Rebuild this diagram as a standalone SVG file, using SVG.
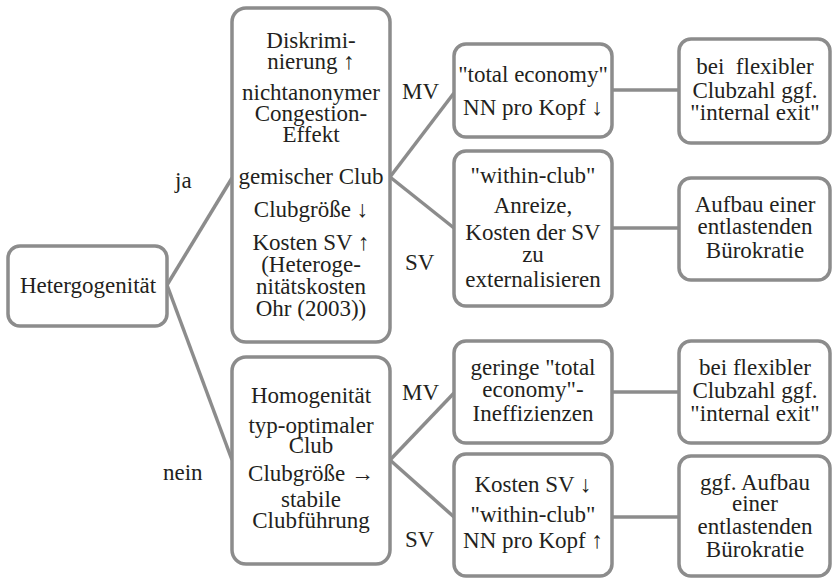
<svg xmlns="http://www.w3.org/2000/svg" width="833" height="579" viewBox="0 0 833 579" font-family="'Liberation Serif', Tinos, 'Times New Roman', 'DejaVu Serif', serif">
<style>
.box{fill:#fff;stroke:#8c8c8c;stroke-width:3.5}
.c{stroke:#8c8c8c;stroke-width:3.5;fill:none}
text{font-family:'Liberation Serif', Tinos, 'Times New Roman', 'DejaVu Serif', serif;font-size:23px;fill:#231f20;text-anchor:middle}
.l{text-anchor:start}
</style>
<rect width="833" height="579" fill="#fff"/>
<g id="connectors">
<line class="c" x1="167" y1="285" x2="232" y2="178"/>
<line class="c" x1="167" y1="285" x2="232" y2="460"/>
<line class="c" x1="390" y1="177" x2="454" y2="93"/>
<line class="c" x1="390" y1="177" x2="454" y2="228"/>
<line class="c" x1="612" y1="90" x2="679" y2="90"/>
<line class="c" x1="612" y1="228" x2="679" y2="228"/>
<line class="c" x1="390" y1="460" x2="454" y2="393"/>
<line class="c" x1="390" y1="460" x2="454" y2="517"/>
<line class="c" x1="612" y1="392" x2="679" y2="392"/>
<line class="c" x1="612" y1="517" x2="679" y2="517"/>
</g>
<g id="labels">
<text class="l" x="175" y="188">ja</text>
<text class="l" x="163" y="480">nein</text>
<text class="l" x="402" y="99">MV</text>
<text class="l" x="405" y="270">SV</text>
<text class="l" x="402" y="400">MV</text>
<text class="l" x="405" y="547">SV</text>
</g>
<g id="het">
<rect class="box" x="8" y="246" width="159" height="80" rx="12"/>
<text x="88" y="293">Hetergogenität</text>
</g>
<g id="b1">
<rect class="box" x="232" y="8" width="158" height="334" rx="14"/>
<text x="311" y="48">Diskrimi-</text>
<text x="311" y="69">nierung ↑</text>
<text x="311" y="100">nichtanonymer</text>
<text x="311" y="121">Congestion-</text>
<text x="311" y="142">Effekt</text>
<text x="311" y="184">gemischer Club</text>
<text x="311" y="217">Clubgröße ↓</text>
<text x="311" y="250">Kosten SV ↑</text>
<text x="311" y="272">(Heteroge-</text>
<text x="311" y="294">nitätskosten</text>
<text x="311" y="316">Ohr (2003))</text>
</g>
<g id="b2">
<rect class="box" x="232" y="357" width="158" height="207" rx="14"/>
<text x="311" y="403">Homogenität</text>
<text x="311" y="433">typ-optimaler</text>
<text x="311" y="453">Club</text>
<text x="311" y="481">Clubgröße →</text>
<text x="311" y="507">stabile</text>
<text x="311" y="528">Clubführung</text>
</g>
<g id="mv1">
<rect class="box" x="454" y="44" width="158" height="93" rx="12"/>
<text x="533" y="82">"total economy"</text>
<text x="533" y="115">NN pro Kopf ↓</text>
</g>
<g id="sv1">
<rect class="box" x="454" y="151" width="158" height="155" rx="12"/>
<text x="533" y="183">"within-club"</text>
<text x="533" y="213">Anreize,</text>
<text x="533" y="240">Kosten der SV</text>
<text x="533" y="262">zu</text>
<text x="533" y="287">externalisieren</text>
</g>
<g id="r1">
<rect class="box" x="679" y="39" width="151" height="104" rx="12"/>
<text x="755" y="74" xml:space="preserve">bei  flexibler</text>
<text x="755" y="98">Clubzahl ggf.</text>
<text x="755" y="120">"internal exit"</text>
</g>
<g id="r2">
<rect class="box" x="679" y="178" width="151" height="102" rx="12"/>
<text x="755" y="212">Aufbau einer</text>
<text x="755" y="234">entlastenden</text>
<text x="755" y="258">Bürokratie</text>
</g>
<g id="mv2">
<rect class="box" x="454" y="341" width="158" height="102" rx="12"/>
<text x="533" y="375">geringe "total</text>
<text x="533" y="397">economy"-</text>
<text x="533" y="421">Ineffizienzen</text>
</g>
<g id="sv2">
<rect class="box" x="454" y="454" width="158" height="122" rx="12"/>
<text x="533" y="492">Kosten SV ↓</text>
<text x="533" y="522">"within-club"</text>
<text x="533" y="548">NN pro Kopf ↑</text>
</g>
<g id="r3">
<rect class="box" x="679" y="341" width="151" height="102" rx="12"/>
<text x="755" y="375">bei flexibler</text>
<text x="755" y="398">Clubzahl ggf.</text>
<text x="755" y="421">"internal exit"</text>
</g>
<g id="r4">
<rect class="box" x="679" y="456" width="151" height="120" rx="12"/>
<text x="755" y="490">ggf. Aufbau</text>
<text x="755" y="511">einer</text>
<text x="755" y="534">entlastenden</text>
<text x="755" y="557">Bürokratie</text>
</g>
</svg>
